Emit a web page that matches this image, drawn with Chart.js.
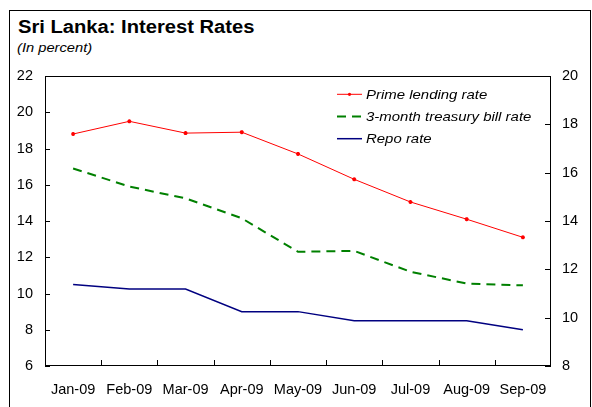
<!DOCTYPE html>
<html>
<head>
<meta charset="utf-8">
<script src="https://cdn.jsdelivr.net/npm/chart.js@4/dist/chart.umd.min.js"></script>
<style>
  html, body { margin: 0; padding: 0; background: #fff; }
  #wrap { position: relative; width: 592px; height: 407px; overflow: hidden;
          font-family: Arial, "Liberation Sans", sans-serif; color: #000; }
  #frame { position: absolute; left: 9px; top: 10px; width: 582px; height: 430px;
           border: 1px solid #000; box-sizing: border-box; }
  #title { position: absolute; left: 18px; top: 18px; font-size: 18px; line-height: 18px;
           font-weight: bold; white-space: nowrap; transform: scaleX(1.12); transform-origin: 0 0; }
  #sub { position: absolute; left: 17px; top: 41px; font-size: 13px; line-height: 13px;
         font-style: italic; white-space: nowrap; transform: scaleX(1.13); transform-origin: 0 0; }
  canvas { position: absolute; left: 0; top: 0; }
</style>
</head>
<body>
<div id="wrap">
  <div id="frame"></div>
  <div id="title">Sri Lanka: Interest Rates</div>
  <div id="sub">(In percent)</div>
  <canvas id="c" width="592" height="407"></canvas>
</div>
<script>
// Monthly interest rates, 2009 (percent)
const months = ['Jan-09', 'Feb-09', 'Mar-09', 'Apr-09', 'May-09', 'Jun-09', 'Jul-09', 'Aug-09', 'Sep-09'];
const primeLending = [18.8, 19.5, 18.85, 18.9, 17.7, 16.3, 15.05, 14.1, 13.1];
const treasuryBill = [16.9, 15.9, 15.25, 14.15, 12.3, 12.35, 11.2, 10.55, 10.45];
const repoRate = [10.5, 10.25, 10.25, 9.0, 9.0, 8.5, 8.5, 8.5, 8.0];
const leftTicks = [6, 8, 10, 12, 14, 16, 18, 20, 22];
const rightTicks = [8, 10, 12, 14, 16, 18, 20];

const FONT = { family: 'Arial, "Liberation Sans", sans-serif', size: 14.5 };

// Plot frame plus inward-pointing tick marks
const framePlugin = {
  id: 'frame',
  afterDatasetsDraw(chart) {
    const { ctx, chartArea: a, scales } = chart;
    ctx.save();
    ctx.strokeStyle = '#000';
    ctx.lineWidth = 1;
    ctx.strokeRect(a.left + 0.5, a.top + 0.5, a.right - a.left - 1, a.bottom - a.top - 1);
    ctx.beginPath();
    leftTicks.forEach(v => {
      const y = Math.round(scales.y.getPixelForValue(v)) + 0.5;
      ctx.moveTo(a.left, y); ctx.lineTo(a.left + 5, y);
    });
    rightTicks.forEach(v => {
      const y = Math.round(scales.y2.getPixelForValue(v)) + 0.5;
      ctx.moveTo(a.right, y); ctx.lineTo(a.right - 6, y);
    });
    for (let i = 0; i < months.length - 1; i++) {
      const x = Math.round((scales.x.getPixelForValue(i) + scales.x.getPixelForValue(i + 1)) / 2) + 0.5;
      ctx.moveTo(x, a.bottom); ctx.lineTo(x, a.bottom - 6);
    }
    ctx.stroke();
    ctx.restore();
  }
};

// Legend drawn inside the plot, upper right
const legendPlugin = {
  id: 'insideLegend',
  afterDatasetsDraw(chart) {
    const { ctx } = chart;
    const x0 = 337, x1 = 362, tx = 366;
    const rows = [94.3, 116.5, 138.7];
    ctx.save();
    ctx.textBaseline = 'middle';
    chart.data.datasets.forEach((ds, i) => {
      const y = rows[i];
      ctx.beginPath();
      ctx.strokeStyle = ds.borderColor;
      ctx.lineWidth = ds.borderWidth;
      ctx.setLineDash(ds.borderDash || []);
      ctx.moveTo(x0, y); ctx.lineTo(x1, y);
      ctx.stroke();
      ctx.setLineDash([]);
      if (ds.pointRadius > 0) {
        ctx.fillStyle = ds.borderColor;
        ctx.beginPath();
        ctx.arc((x0 + x1) / 2, y, 1.6, 0, Math.PI * 2);
        ctx.fill();
      }
      ctx.save();
      ctx.translate(tx, y + 1);
      ctx.scale(1.15, 1);
      ctx.font = 'italic 13px Arial, "Liberation Sans", sans-serif';
      ctx.fillStyle = '#000';
      ctx.fillText(ds.label, 0, 0);
      ctx.restore();
    });
    ctx.restore();
  }
};

new Chart(document.getElementById('c'), {
  type: 'line',
  data: {
    labels: months,
    datasets: [
      { label: 'Prime lending rate', data: primeLending, yAxisID: 'y',
        borderColor: '#ff0000', backgroundColor: '#ff0000', borderWidth: 1,
        pointStyle: 'star', pointRadius: 2, pointBorderWidth: 1.2, tension: 0 },
      { label: '3-month treasury bill rate', data: treasuryBill, yAxisID: 'y',
        borderColor: '#008000', borderWidth: 2, borderDash: [9, 6],
        pointRadius: 0, tension: 0 },
      { label: 'Repo rate', data: repoRate, yAxisID: 'y',
        borderColor: '#000080', borderWidth: 1.5, pointRadius: 0, tension: 0 }
    ]
  },
  options: {
    responsive: false,
    animation: false,
    devicePixelRatio: 1,
    layout: { padding: { top: 76, left: 0, right: 0, bottom: 0 } },
    plugins: { legend: { display: false }, tooltip: { enabled: false }, title: { display: false } },
    scales: {
      x: {
        offset: true,
        grid: { display: false, drawTicks: false },
        border: { display: false },
        ticks: { font: FONT, color: '#000', padding: 15, maxRotation: 0, autoSkip: false },
        afterFit(s) { s.height = 41; }
      },
      y: {
        position: 'left', min: 6, max: 22,
        grid: { display: false, drawTicks: false },
        border: { display: false },
        ticks: { stepSize: 2, font: FONT, color: '#000', padding: 12 },
        afterBuildTicks(s) { s.ticks = leftTicks.map(v => ({ value: v })); },
        afterFit(s) { s.width = 45; }
      },
      y2: {
        position: 'right', min: 8, max: 20,
        grid: { display: false, drawTicks: false },
        border: { display: false },
        ticks: { stepSize: 2, font: FONT, color: '#000', padding: 11 },
        afterBuildTicks(s) { s.ticks = rightTicks.map(v => ({ value: v })); },
        afterFit(s) { s.width = 41; }
      }
    }
  },
  plugins: [framePlugin, legendPlugin]
});
</script>
</body>
</html>
